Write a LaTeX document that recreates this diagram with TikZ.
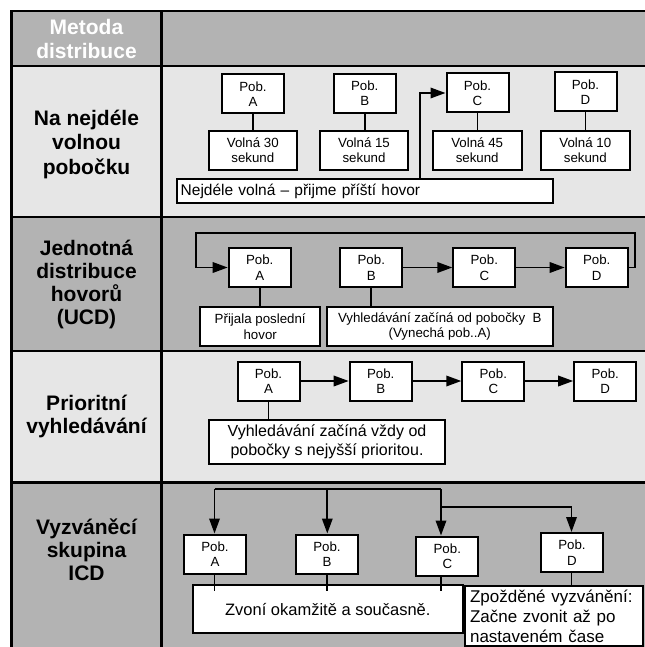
\documentclass[tikz,border=0pt]{standalone}
\usepackage{fontspec}
\setmainfont{Liberation Sans}
\usetikzlibrary{arrows.meta,calc}
\definecolor{darkg}{HTML}{B3B3B3}
\definecolor{lightg}{HTML}{E6E6E6}
\begin{document}
\begin{tikzpicture}[x=1bp,y=-1bp,
  pob/.style={draw, line width=2bp, fill=white, inner sep=0pt, minimum width=62bp, minimum height=39bp, align=center, font=\fontsize{13.3bp}{15.5bp}\selectfont},
  ibox/.style={draw, line width=2bp, fill=white, inner sep=0pt, align=center, font=\fontsize{13.3bp}{15.5bp}\selectfont},
  rlabel/.style={font=\fontsize{21bp}{23bp}\selectfont\bfseries, align=center, inner sep=0pt},
  tline/.style={line width=2.2bp},
  conn/.style={line width=1.8bp},
  arr/.style={conn, -{Triangle[length=15bp,width=10.5bp]}}]
\useasboundingbox (0,0) rectangle (645,647);
% table background
\fill[darkg] (11.5,11) rectangle (645,66);
\fill[lightg] (11.5,66) rectangle (645,217.3);
\fill[darkg] (11.5,217.3) rectangle (645,350.7);
\fill[lightg] (11.5,350.7) rectangle (645,482.5);
\fill[darkg] (11.5,482.5) rectangle (645,647);
\draw[tline] (645,11) -- (11.5,11) -- (11.5,647);
\draw[tline] (161.5,11) -- (161.5,647);
\foreach \yy in {66,217.3,350.7,482.5} \draw[tline] (11.5,\yy) -- (645,\yy);
% row labels
\node[rlabel, text=white, font=\fontsize{21bp}{24bp}\selectfont\bfseries] (hdr) at (86.5,39) {Metoda\\distribuce};
\node[rlabel, font=\fontsize{21bp}{24.5bp}\selectfont\bfseries] (lab1) at (86.5,144) {Na nejdéle\\volnou\\pobočku};
\node[rlabel] (lab2) at (86.5,284) {Jednotná\\distribuce\\hovorů\\(UCD)};
\node[rlabel] (lab3) at (86.5,416) {Prioritní\\vyhledávání};
\node[rlabel] (lab4) at (86.5,550) {Vyzváněcí\\skupina\\ICD};
% ---- row 1
\node[pob] (a1) at (253,94) {Pob.\\A};
\node[pob] (b1) at (364.7,93.4) {Pob.\\B};
\node[pob] (c1) at (477.5,93) {Pob.\\C};
\node[pob] (d1) at (585.5,92) {Pob.\\D};
\node[ibox, minimum width=88bp, minimum height=39bp] (v1) at (252.8,150.2) {Volná 30\\sekund};
\node[ibox, minimum width=88bp, minimum height=39bp] (v2) at (364,150.2) {Volná 15\\sekund};
\node[ibox, minimum width=89bp, minimum height=39bp] (v3) at (477.2,150.2) {Volná 45\\sekund};
\node[ibox, minimum width=89bp, minimum height=39bp] (v4) at (585.3,150.2) {Volná 10\\sekund};
\node[ibox, minimum width=376bp, minimum height=24.6bp, text width=368bp, align=left, font=\fontsize{15.5bp}{18bp}\selectfont] (n1) at (364.7,191) {Nejdéle volná – přijme příští hovor};
\draw[conn] (a1.south) -- (a1.south |- v1.north);
\draw[conn] (b1.south) -- (b1.south |- v2.north);
\draw[conn] (c1.south) -- (c1.south |- v3.north);
\draw[conn] (d1.south) -- (d1.south |- v4.north);
\coordinate (j1) at (420,100);
\draw[arr] (n1.north -| j1) |- (c1.west);
% ---- row 2
\node[pob] (a2) at (259.7,267.5) {Pob.\\A};
\node[pob] (b2) at (371.3,267.5) {Pob.\\B};
\node[pob] (c2) at (484.3,267.5) {Pob.\\C};
\node[pob] (d2) at (596.7,267.5) {Pob.\\D};
\draw[arr] (b2) -- (c2);
\draw[arr] (c2) -- (d2);
\coordinate (lpR) at (635,232.7);
\coordinate (lpL) at (195.7,232.7);
\draw[arr] (d2.east) -| (lpR) -- (lpL) |- (a2.west);
\node[ibox, minimum width=120.3bp, minimum height=38.7bp] (p2) at (260.2,326.7) {Přijala poslední\\hovor};
\node[ibox, minimum width=225.7bp, minimum height=38.7bp] (s2) at (439.8,326.7) {Vyhledávání začíná od pobočky\ \ B\\(Vynechá pob..A)};
\draw[conn] (a2.south) -- (a2.south |- p2.north);
\draw[conn] (b2.south) -- (b2.south |- s2.north);
% ---- row 3
\node[pob] (a3) at (268.5,381) {Pob.\\A};
\node[pob] (b3) at (380.7,381) {Pob.\\B};
\node[pob] (c3) at (493.3,381) {Pob.\\C};
\node[pob] (d3) at (605.2,381) {Pob.\\D};
\draw[arr] (a3) -- (b3);
\draw[arr] (b3) -- (c3);
\draw[arr] (c3) -- (d3);
\node[ibox, minimum width=236bp, minimum height=44bp, font=\fontsize{16bp}{18.7bp}\selectfont] (p3) at (327,442) {Vyhledávání začíná vždy od\\pobočky s nejyšší prioritou.};
\draw[conn] (a3.south) -- (a3.south |- p3.north);
% ---- row 4
\node[pob] (a4) at (215,554) {Pob.\\A};
\node[pob] (b4) at (327,554) {Pob.\\B};
\node[pob] (c4) at (447.3,556) {Pob.\\C};
\node[pob] (d4) at (572,552.5) {Pob.\\D};
\node[ibox, minimum width=270.4bp, minimum height=48.3bp, font=\fontsize{16.5bp}{19bp}\selectfont] (zv) at (327.8,609.2) {Zvoní okamžitě a současně.};
\node[ibox, minimum width=178.3bp, minimum height=60bp, text width=168.3bp, align=left, font=\fontsize{17bp}{20bp}\selectfont] (zp) at (554.2,616) {Zpožděné vyzvánění:\\Začne zvonit až po\\nastaveném čase};
\coordinate (tA) at (214.5,489.3);
\coordinate (tB) at (327.3,489.3);
\coordinate (tC) at (441,489.3);
\coordinate (tC2) at (441,506.7);
\coordinate (tD) at (571.5,506.7);
\draw[conn] (tA) -- (tC);
\draw[conn] (tC2) -- (tD);
\draw[arr] (tA) -- (tA |- a4.north);
\draw[arr] (tB) -- (tB |- b4.north);
\draw[arr] (tC) -- (tC |- c4.north);
\draw[arr] (tD) -- (tD |- d4.north);
\draw[conn] (tA |- a4.south) -- ($(tA |- zv.north)+(0,6.7)$);
\draw[conn] (tB |- b4.south) -- ($(tB |- zv.north)+(0,6.7)$);
\draw[conn] (tC |- c4.south) -- ($(tC |- zv.north)+(0,6.7)$);
\draw[conn] (tD |- d4.south) -- (tD |- zp.north);
\end{tikzpicture}
\end{document}
